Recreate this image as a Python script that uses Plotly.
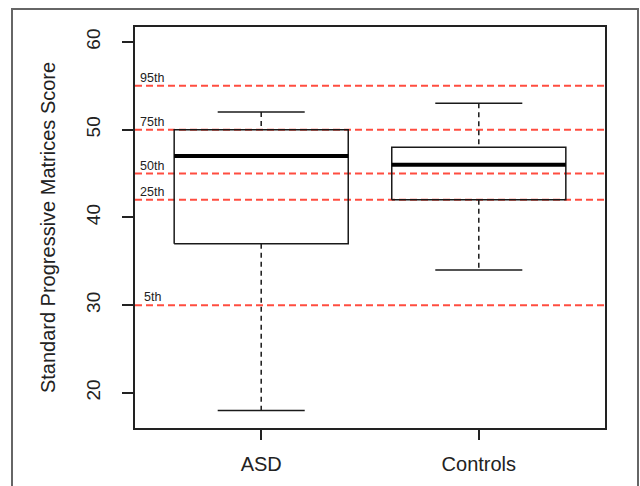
import plotly.graph_objects as go

# ---- data ----
groups = ["ASD", "Controls"]
positions = [1, 2]
lower_whisker = [18, 34]
q1 = [37, 42]
median = [47, 46]
q3 = [50, 48]
upper_whisker = [52, 53]

percentile_labels = ["95th", "75th", "50th", "25th", "5th"]
percentile_values = [55, 50, 45, 42, 30]

y_ticks = [20, 30, 40, 50, 60]

# ---- style ----
BOX_HALF = 0.4
CAP_HALF = 0.2
INK = "#1a1a1a"
RED = "#ff4d40"
FONT = "Liberation Sans, Arial, sans-serif"

fig = go.Figure()

# percentile reference lines (drawn first, under boxes)
for lab, val in zip(percentile_labels, percentile_values):
    fig.add_shape(type="line", xref="paper", x0=0, x1=1, yref="y", y0=val, y1=val,
                  line=dict(color=RED, width=2, dash="7px,4px"), layer="below")
    fig.add_annotation(x=0.5, y=val, xref="x", yref="y", text=lab, showarrow=False,
                       xanchor="center", yanchor="bottom", yshift=-1,
                       font=dict(family=FONT, size=12.5, color="#222"))

for p, lw, a, m, b, uw in zip(positions, lower_whisker, q1, median, q3, upper_whisker):
    # whiskers (dashed)
    fig.add_trace(go.Scatter(x=[p, p], y=[uw, b], mode="lines",
                             line=dict(color=INK, width=1.5, dash="5px,4px"),
                             showlegend=False, hoverinfo="skip"))
    fig.add_trace(go.Scatter(x=[p, p], y=[a, lw], mode="lines",
                             line=dict(color=INK, width=1.5, dash="5px,4px"),
                             showlegend=False, hoverinfo="skip"))
    # caps
    for v in (lw, uw):
        fig.add_trace(go.Scatter(x=[p - CAP_HALF, p + CAP_HALF], y=[v, v], mode="lines",
                                 line=dict(color=INK, width=1.5),
                                 showlegend=False, hoverinfo="skip"))
    # box
    fig.add_trace(go.Scatter(x=[p - BOX_HALF, p + BOX_HALF, p + BOX_HALF, p - BOX_HALF, p - BOX_HALF],
                             y=[a, a, b, b, a], mode="lines",
                             line=dict(color=INK, width=1.5),
                             showlegend=False, hoverinfo="skip"))
    # median
    fig.add_trace(go.Scatter(x=[p - BOX_HALF, p + BOX_HALF], y=[m, m], mode="lines",
                             line=dict(color="#000", width=4),
                             showlegend=False, hoverinfo="skip"))

# outer frame around the whole figure
L, R, T, B = 135, 35, 27, 58
W, H = 640, 486
pw, ph = W - L - R, H - T - B
fig.add_shape(type="rect", xref="paper", yref="paper",
              x0=(12 - L) / pw, x1=(638 - L) / pw,
              y0=(H - B - 495) / ph, y1=(H - B - 9) / ph,
              line=dict(color="#666", width=2), fillcolor="rgba(0,0,0,0)", layer="below")

fig.update_layout(
    width=W, height=H,
    margin=dict(l=L, r=R, t=T, b=B, pad=0, autoexpand=False),
    plot_bgcolor="white", paper_bgcolor="white",
    font=dict(family=FONT, size=20, color="#222"),
    xaxis=dict(range=[0.42, 2.58], tickvals=positions, ticktext=groups,
               showgrid=False, zeroline=False, showline=True, mirror=True,
               linecolor="#222", linewidth=1.5, ticks="outside", ticklen=10,
               tickcolor="#222", tickwidth=1.5, tickfont=dict(size=20),
               ticklabelstandoff=7, automargin=False),
    yaxis=dict(range=[16.0, 61.7], tickvals=y_ticks,
               showgrid=False, zeroline=False, showline=True, mirror=True,
               linecolor="#222", linewidth=1.5, ticks="outside", ticklen=11,
               tickcolor="#222", tickwidth=1.5, tickangle=-90, tickfont=dict(size=19),
               ticklabelstandoff=15, automargin=False,
               title=dict(text="Standard Progressive Matrices Score",
                          font=dict(size=20), standoff=22)),
)

fig.write_html("out.html")
